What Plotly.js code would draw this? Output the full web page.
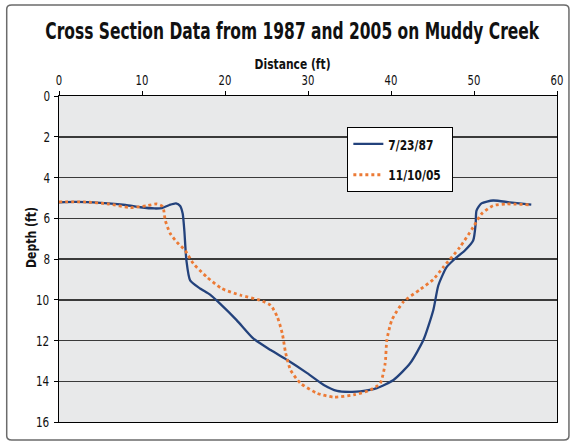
<!DOCTYPE html>
<html><head><meta charset="utf-8">
<script src="https://cdn.plot.ly/plotly-3.0.1.min.js"></script>
<style>html,body{margin:0;padding:0;background:#fff;}#chart{width:576px;height:442px;}</style>
</head><body><div id="chart"></div>
<script>
// 7/23/87 survey
const dist1987 = [0, 2, 5, 8, 9.8, 11.5, 12.4, 13.3, 14.1, 14.6, 14.9, 15.1, 15.35, 15.8, 17.0, 18.2, 19.4, 21.4, 23.4, 25.5, 27.5, 29.9, 31.9, 33.5, 35.0, 36.3, 38.3, 40.3, 42.3, 43.9, 45.1, 45.7, 46.7, 47.7, 48.9, 49.9, 50.2, 50.3, 50.9, 52.3, 54.3, 56.9];
const depth1987 = [5.22, 5.2, 5.25, 5.35, 5.46, 5.52, 5.5, 5.35, 5.27, 5.4, 5.77, 6.6, 8.07, 9.05, 9.45, 9.75, 10.19, 11.0, 11.9, 12.47, 12.96, 13.6, 14.18, 14.47, 14.52, 14.5, 14.34, 13.94, 13.12, 11.98, 10.5, 9.3, 8.4, 7.99, 7.58, 7.09, 6.27, 5.62, 5.27, 5.13, 5.22, 5.33];
// 11/10/05 survey
const dist2005 = [0, 3, 6, 8.6, 10.6, 11.8, 12.5, 12.8, 13.4, 14.2, 15.2, 16.2, 17.8, 19.6, 21.9, 24.2, 25.5, 26.3, 26.9, 27.3, 27.9, 29.1, 31.1, 33.1, 35.5, 37.5, 38.7, 39.3, 39.5, 40.1, 41.5, 43.5, 45.1, 46.3, 48.3, 49.9, 50.9, 52.3, 53.9, 56.7];
const depth2005 = [5.2, 5.2, 5.3, 5.48, 5.38, 5.3, 5.43, 6.1, 6.75, 7.17, 7.58, 8.23, 8.88, 9.45, 9.78, 10.02, 10.27, 10.84, 11.65, 12.6, 13.45, 14.1, 14.59, 14.78, 14.67, 14.43, 14.1, 13.12, 11.98, 11.0, 10.1, 9.5, 9.0, 8.4, 7.42, 6.44, 5.79, 5.38, 5.3, 5.34];
const seriesNames = ['7/23/87', '11/10/05'];
const xTicks = [0, 10, 20, 30, 40, 50, 60];
const yTicks = [0, 2, 4, 6, 8, 10, 12, 14, 16];

const FONT = 'DejaVu Sans Condensed, DejaVu Sans, sans-serif';
function f(size) { return {family: FONT, size: size, color: '#111'}; }

const traces = [
  {x: dist1987, y: depth1987, name: seriesNames[0], mode: 'lines', legendgroup: 'a',
   line: {color: '#23427c', width: 2.3, shape: 'spline', smoothing: 0.6}},
  {x: dist2005, y: depth2005, name: seriesNames[1], mode: 'lines', legendgroup: 'b',
   line: {color: '#ec7a35', width: 2.8, dash: 'dot', shape: 'spline', smoothing: 0.6}}
];

const layout = {
  width: 576, height: 442,
  margin: {l: 58.5, r: 19, t: 96, b: 20},
  paper_bgcolor: '#ffffff',
  plot_bgcolor: '#e8e9ea',
  font: f(14),
  title: {text: '<b>Cross Section Data from 1987 and 2005 on Muddy Creek</b>',
          font: f(23), xref: 'container', yref: 'container',
          x: 0.507, xanchor: 'center', y: 1 - 31 / 442, yanchor: 'middle'},
  xaxis: {side: 'top', range: [0, 60], tickvals: xTicks, ticktext: xTicks.map(String),
          ticks: 'outside', ticklen: 4, tickcolor: '#000', tickwidth: 1,
          showline: true, linecolor: '#000', linewidth: 1.2, mirror: true,
          showgrid: false, zeroline: false,
          tickfont: f(14)},
  yaxis: {range: [16, 0], tickvals: yTicks, ticktext: yTicks.map(String),
          ticks: 'outside', ticklen: 4, tickcolor: '#000', tickwidth: 1,
          showline: true, linecolor: '#000', linewidth: 1.2, mirror: true,
          showgrid: true, gridcolor: '#3a3a3a', gridwidth: 1.5, zeroline: false,
          tickfont: f(14.5)},
  annotations: [
    {text: '<b>Distance (ft)</b>', xref: 'paper', yref: 'paper',
     x: (292 - 58.5) / 498.5, y: (422 - 64) / 326, xanchor: 'center', yanchor: 'middle',
     showarrow: false, font: f(14)},
    {text: '<b>Depth (ft)</b>', xref: 'paper', yref: 'paper', textangle: -90,
     x: (30 - 58.5) / 498.5, y: (422 - 237.5) / 326, xanchor: 'center', yanchor: 'middle',
     showarrow: false, font: f(14.5)}
  ],
  showlegend: true,
  legend: {x: 0.579, y: 0.905, xanchor: 'left', yanchor: 'top',
           bgcolor: '#ffffff', bordercolor: '#000', borderwidth: 1,
           font: f(14.5),
           tracegroupgap: 9, itemwidth: 30},
  shapes: [{type: 'path', xref: 'paper', yref: 'paper', layer: 'below',
            path: 'M -0.095,1.279 L 1.014,1.279 Q 1.024,1.279 1.024,1.266 L 1.024,-0.042 Q 1.024,-0.055 1.014,-0.055 L -0.095,-0.055 Q -0.105,-0.055 -0.105,-0.042 L -0.105,1.266 Q -0.105,1.279 -0.095,1.279 Z',
            line: {color: '#6b6b6b', width: 1.5}, fillcolor: 'rgba(0,0,0,0)'}]
};

// Horizontally condense a rendered text element (keeps it real text)
function condense(el, sx, targetW) {
  if (!el) return;
  const b = el.getBBox();
  if (!b.width) return;
  const s = targetW ? targetW / b.width : sx;
  const cx = b.x + b.width / 2, cy = b.y + b.height / 2;
  const t = el.getAttribute('transform') || '';
  el.setAttribute('transform', t + ' translate(' + cx + ',' + cy + ') scale(' + s + ',1) translate(' + (-cx) + ',' + (-cy) + ')');
}

Plotly.newPlot('chart', traces, layout, {displayModeBar: false, staticPlot: true}).then(function (gd) {
  condense(gd.querySelector('.gtitle'), null, 495);
  const ann = gd.querySelectorAll('.annotation-text');
  condense(ann[0], null, 76);
  condense(ann[1], null, 61);
  gd.querySelectorAll('.xtick text, .ytick text').forEach(function (t) { condense(t, 0.8); });
  gd.querySelectorAll('.legendtext').forEach(function (t) {
    const b = t.getBBox();
    t.setAttribute('transform', 'translate(' + b.x + ',0) scale(0.82,1) translate(' + (-b.x) + ',0)');
    t.style.fontWeight = 'bold';
  });
});
</script></body></html>
